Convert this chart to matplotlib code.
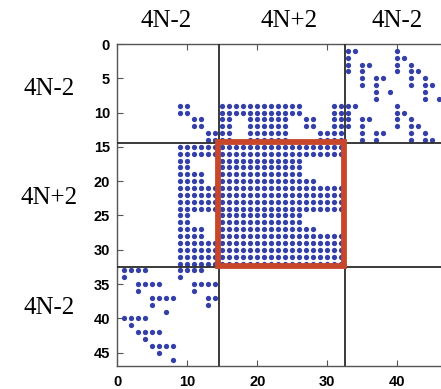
import matplotlib
matplotlib.use("Agg")
import matplotlib.pyplot as plt
from matplotlib.patches import Rectangle

# Nonzero columns of each matrix row (1-based, MATLAB style), as "a-b,c" runs.
rows_top = [  # rows 1-14
    "33-34,40",
    "33,40-41",
    "33,35-36,40,42",
    "33,35,40,42-43",
    "35,37-38,42,44",
    "35,37,42,44-45",
    "37,39,44",
    "37,44,46",
    "9-10,15-26,31-34,40",
    "9-10,15-26,31-33,40-41",
    "11-12,15-16,19-24,27-28,31-33,35-36,40,42",
    "11-12,15-16,19-24,27-28,31-33,35,40,42-43",
    "13-16,19-24,29-32,35,37-38,42,44",
    "13-16,19-24,29-32,35,37,42,44-45",
]
rows_mid = [  # rows 15-32
    "9-32",
    "9-32",
    "9-10,15-26",
    "9-10,15-26",
    "9-12,15-26",
    "9-12,15-28",
    "9-32",
    "9-32",
    "9-32",
    "9-32",
    "9-10,15-26",
    "9-10,15-26",
    "9-12,15-28",
    "9-12,15-32",
    "9-32",
    "9-32",
    "9-32",
    "9-32",
]
rows_bot = [  # rows 33-46
    "1-4,9-12",
    "1,9",
    "3-6,11-14",
    "3,11",
    "5-8,13-14",
    "5,13",
    "7",
    "1-4",
    "2",
    "3-6",
    "4",
    "5-8",
    "6",
    "8",
]

block_sizes = [14, 18, 14]
block_names = ["4N-2", "4N+2", "4N-2"]


def parse_runs(spec):
    cols = []
    for part in spec.split(","):
        if "-" in part:
            a, b = part.split("-")
            cols.extend(range(int(a), int(b) + 1))
        else:
            cols.append(int(part))
    return cols


all_rows = rows_top + rows_mid + rows_bot
n = len(all_rows)
xs, ys = [], []
for i, spec in enumerate(all_rows):
    for c in parse_runs(spec):
        xs.append(c)
        ys.append(i + 1)

fig = plt.figure(figsize=(4.41, 3.89), dpi=100)
ax = fig.add_axes([117 / 441, 22.6 / 389, 329.5 / 441, 322.4 / 389])

ax.plot(xs, ys, linestyle="none", marker="o", markersize=3.8,
        markeredgewidth=0, color="#3440a8")

# block boundaries
edges = [sum(block_sizes[:k]) + 0.5 for k in range(1, len(block_sizes))]
for e in edges:
    ax.axvline(e, color="#2a2a2a", lw=1.3, zorder=3)
    ax.axhline(e, color="#2a2a2a", lw=1.3, zorder=3)

# highlight the central 4N+2 block
ax.add_patch(Rectangle((edges[0] - 0.15, edges[0] - 0.15), 18, 18,
                       fill=False, edgecolor="#c8462a", lw=4.2, zorder=4))

ax.set_xlim(0, n + 1)
ax.set_ylim(n + 1, 0)
ax.set_xticks(range(0, 41, 10))
ax.set_yticks(range(0, 46, 5))
ax.tick_params(direction="in", length=4, width=0.8, color="#555555",
               top=True, right=True, labelsize=10.5, pad=5)
for lab in ax.get_xticklabels() + ax.get_yticklabels():
    lab.set_fontfamily("Liberation Sans")
    lab.set_fontweight("bold")
ax.tick_params(axis="x", pad=6)
for s in ax.spines.values():
    s.set_color("#555555")
    s.set_linewidth(1.0)

# block names along top and left
serif = dict(family="Liberation Serif", fontsize=18, ha="center", va="center")
for x, name in zip([166, 289, 397], block_names):
    fig.text(x / 441, 1 - 21 / 389, name, **serif)
for y, name in zip([89, 198, 308], block_names):
    fig.text(49 / 441, 1 - y / 389, name, **serif)

plt.savefig("out.png", dpi=100)
